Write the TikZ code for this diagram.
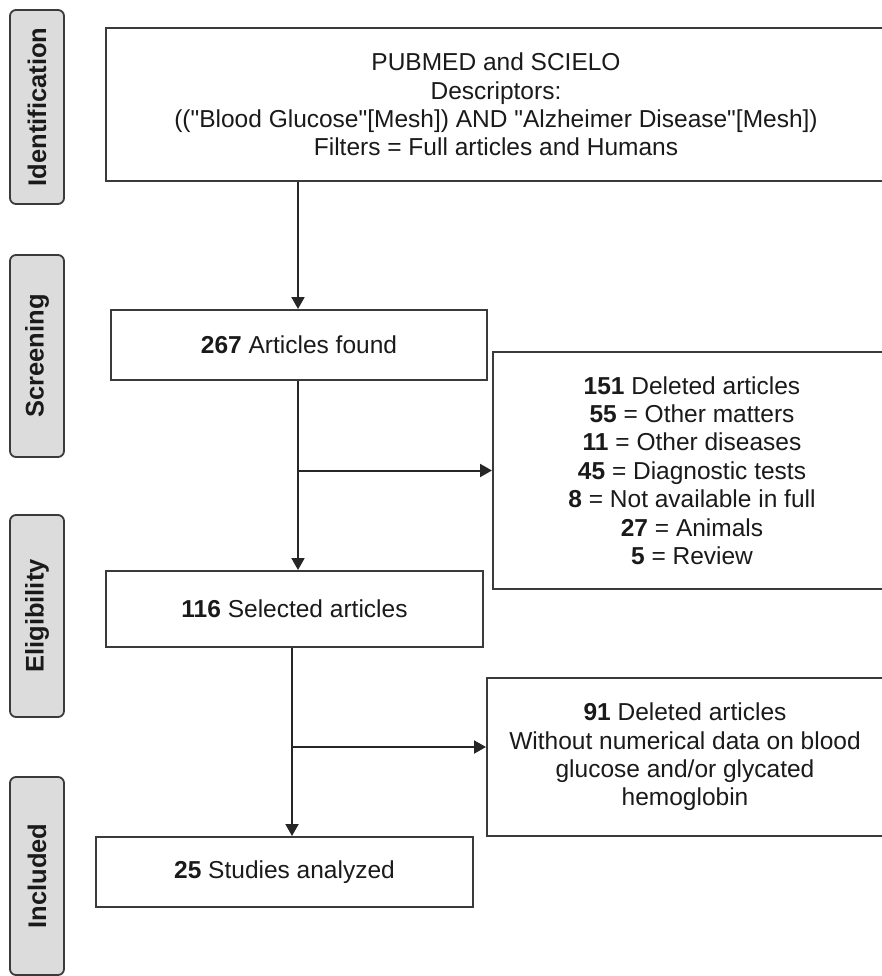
\documentclass[tikz,border=0pt]{standalone}
\usepackage{fontspec}
\setmainfont{Liberation Sans}[Ligatures=TeXOff]
\usetikzlibrary{arrows.meta}
\definecolor{linec}{HTML}{3A3A3A}
\definecolor{tabfill}{HTML}{DCDCDC}
\definecolor{txt}{HTML}{1A1A1A}
\begin{document}
\begin{tikzpicture}[x=1pt,y=-1pt,
  box/.style={draw=linec, line width=2pt, fill=white, inner sep=0pt, align=center,
    text=txt, font=\fontsize{24.5}{28.4}\selectfont},
  tab/.style={draw=linec, line width=1.8pt, fill=tabfill, rounded corners=6pt,
    minimum width=54pt, inner sep=0pt, text=txt,
    font=\fontsize{25.5}{28}\selectfont\bfseries},
  conn/.style={draw=black!85, line width=2pt},
  arr/.style={conn, -{Triangle[length=12pt,width=13pt]}}]
\useasboundingbox (0,0) rectangle (881,976);

% side tabs
\node[tab, minimum height=194pt] (tid) at (37,107) {\rotatebox{90}{Identification}};
\node[tab, minimum height=202pt] (tsc) at (37,356) {\rotatebox{90}{Screening}};
\node[tab, minimum height=202pt] (tel) at (37,616) {\rotatebox{90}{Eligibility}};
\node[tab, minimum height=198pt] (tin) at (37,876) {\rotatebox{90}{Included}};

% boxes
\node[box, minimum width=780pt, minimum height=153pt] (top) at (496,104.5)
  {PUBMED and SCIELO\\Descriptors:\\(("Blood Glucose"[Mesh]) AND "Alzheimer Disease"[Mesh])\\Filters = Full articles and Humans};
\node[box, minimum width=376pt, minimum height=70pt] (b267) at (299,345)
  {\textbf{267} Articles found};
\node[box, minimum width=398pt, minimum height=237pt] (del1) at (692,470.5)
  {\textbf{151} Deleted articles\\\textbf{55} = Other matters\\\textbf{11} = Other diseases\\\textbf{45} = Diagnostic tests\\\textbf{8} = Not available in full\\\textbf{27} = Animals\\\textbf{5} = Review};
\node[box, minimum width=377pt, minimum height=76pt] (b116) at (294.5,609)
  {\textbf{116} Selected articles};
\node[box, minimum width=396pt, minimum height=158pt] (del2) at (685,757)
  {\textbf{91} Deleted articles\\Without numerical data on blood\\glucose and/or glycated\\hemoglobin};
\node[box, minimum width=377pt, minimum height=70pt] (b25) at (284.5,872)
  {\textbf{25} Studies analyzed};

% connectors
\coordinate (x1) at (298,0);
\draw[arr] (top.south -| x1) -- (b267.north -| x1);
\draw[arr] (b267.south -| x1) -- (b116.north -| x1);
\draw[arr] (del1.west -| x1) -- (del1.west);

\coordinate (j2) at (292,747);
\draw[conn] (b116.south -| j2) -- (j2);
\draw[arr] (j2) -- (b25.north -| j2);
\draw[arr] (j2) -- (del2.west |- j2);
\end{tikzpicture}
\end{document}
